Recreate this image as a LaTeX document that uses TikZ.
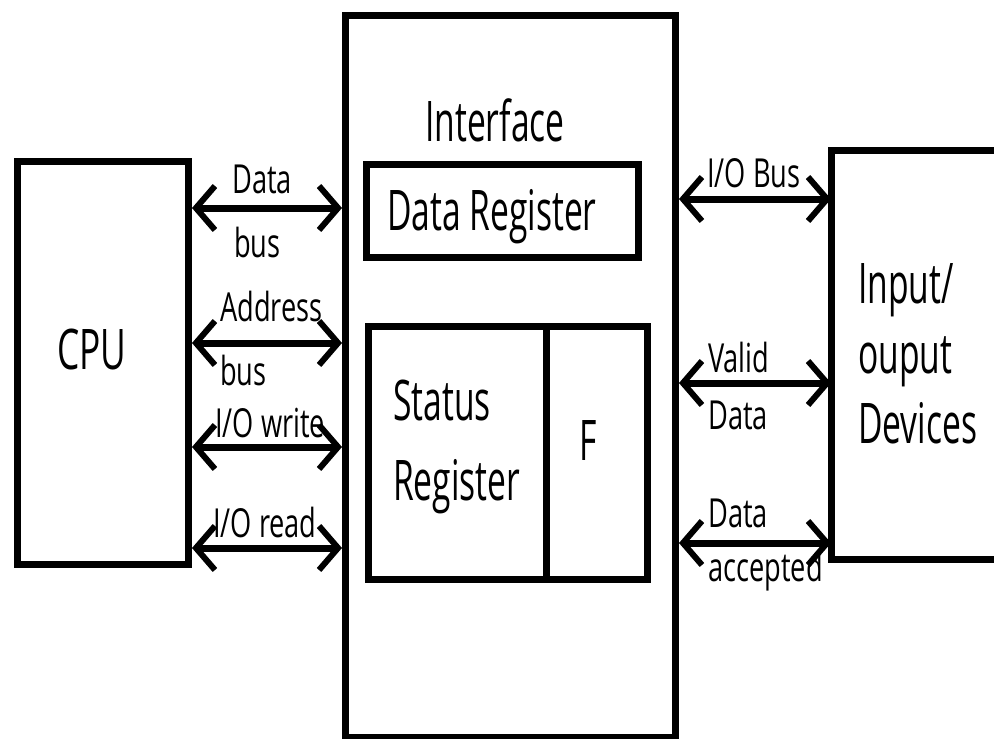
\documentclass[tikz,border=0pt]{standalone}
\usepackage{fontspec}
\setmainfont{Open Sans}
\usetikzlibrary{arrows.meta}
% horizontally condensed text
\newcommand\cond[2]{\scalebox{#1}[1]{#2}}
\newcommand\bigtxt[1]{\cond{0.6}{#1}}
\newcommand\smalltxt[1]{\cond{0.68}{#1}}
\begin{document}
\begin{tikzpicture}[x=1pt,y=-1pt,
  box/.style={draw, line width=7pt, rectangle, inner sep=0pt, anchor=north west},
  bigl/.style={font=\fontsize{56}{70}\selectfont, inner sep=0pt, anchor=base west},
  smalll/.style={font=\fontsize{40}{48}\selectfont, inner sep=0pt, anchor=base west},
  tip/.tip={Straight Barb[length=19pt,width=44pt,line width=6pt]},
  bus/.style={line width=7pt, tip-tip}]
\useasboundingbox (0,0) rectangle (994,739);

% blocks
\node[box, minimum width=171pt, minimum height=403pt] (cpu) at (14,158) {};
\node[box, minimum width=330pt, minimum height=722pt] (iface) at (342,12) {};
\node[box, minimum width=272pt, minimum height=93pt] (dreg) at (363,161) {};
\node[box, minimum width=279pt, minimum height=253pt] (sreg) at (365,323) {};
\draw[line width=7pt] (546,0 |- sreg.north) -- (546,0 |- sreg.south);
% device block, open towards the right edge
\coordinate (devtl) at (831,150);
\coordinate (devbl) at (831,559);
\draw[line width=7pt] (1010,150) -- (devtl) -- (devbl) -- (1010,559);

% block texts
\node[bigl] (tcpu) at (57,369) {\cond{0.63}{CPU}};
\node[bigl] (tiface) at (425,141) {\bigtxt{Interface}};
\node[bigl] (tdreg) at (387,230) {\bigtxt{Data Register}};
\node[bigl] (tstat1) at (393,420) {\bigtxt{Status}};
\node[bigl] (tstat2) at (393,500) {\bigtxt{Register}};
\node[bigl] (tflag) at (579,460) {\bigtxt{F}};
\node[bigl] (tdev1) at (858,303) {\bigtxt{Input/}};
\node[bigl] (tdev2) at (858,373) {\bigtxt{ouput}};
\node[bigl] (tdev3) at (858,443) {\bigtxt{Devices}};

% CPU side buses
\draw[bus] (cpu.east |- 0,208) -- (iface.west |- 0,208);
\draw[bus] (cpu.east |- 0,343) -- (iface.west |- 0,343);
\draw[bus] (cpu.east |- 0,447) -- (iface.west |- 0,447);
\draw[bus] (cpu.east |- 0,548) -- (iface.west |- 0,548);
\node[smalll] (ldata1) at (232,193) {\smalltxt{Data}};
\node[smalll] (lbus1) at (234,257) {\smalltxt{bus}};
\node[smalll] (laddr1) at (220,321) {\smalltxt{Address}};
\node[smalll] (laddr2) at (220,385) {\smalltxt{bus}};
\node[smalll] (lwrite) at (215,437) {\smalltxt{I/O write}};
\node[smalll] (lread) at (213,537) {\smalltxt{I/O read}};

% device side lines
\draw[bus] (iface.east |- 0,199) -- (devtl |- 0,199);
\draw[bus] (iface.east |- 0,383) -- (devtl |- 0,383);
\draw[bus] (iface.east |- 0,543) -- (devtl |- 0,543);
\node[smalll] (liobus) at (707,187) {\smalltxt{I/O Bus}};
\node[smalll] (lvalid1) at (708,372) {\smalltxt{Valid}};
\node[smalll] (lvalid2) at (708,429) {\smalltxt{Data}};
\node[smalll] (lacc1) at (708,527) {\smalltxt{Data}};
\node[smalll] (lacc2) at (708,581) {\smalltxt{accepted}};
\end{tikzpicture}
\end{document}
